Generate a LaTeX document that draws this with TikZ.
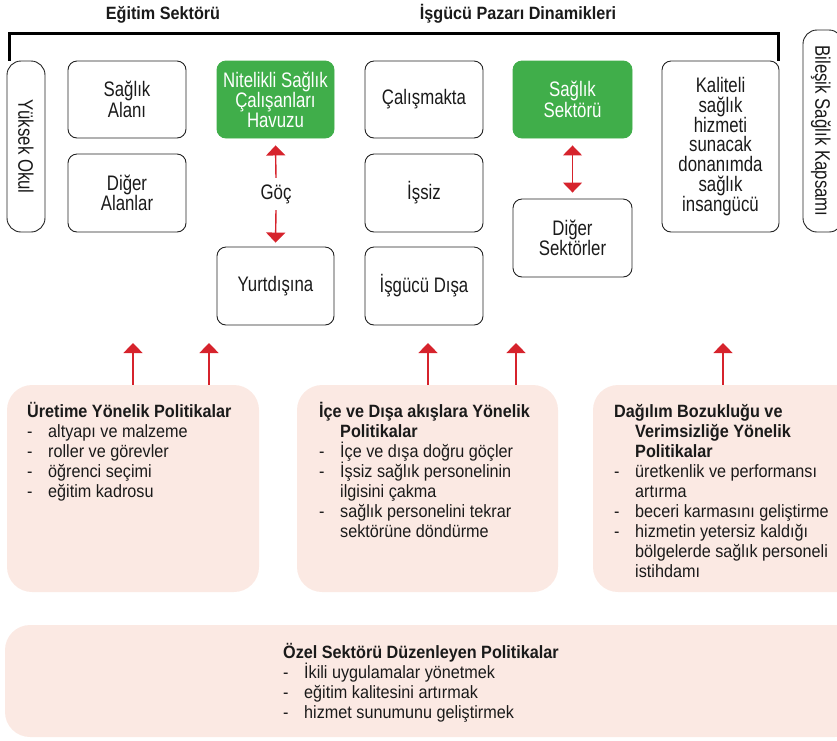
\documentclass[tikz,border=0pt]{standalone}
\usepackage{fontspec}
\setmainfont{Liberation Sans}[FakeStretch=0.91]
\newfontfamily\bigfont{Liberation Sans}[FakeStretch=0.8]
\usetikzlibrary{arrows.meta}
\definecolor{gfill}{HTML}{40AE4A}
\definecolor{rarrow}{HTML}{D6232C}
\definecolor{pfill}{HTML}{FBE9E3}
\definecolor{bord}{HTML}{222222}
\definecolor{txt}{HTML}{1A1A1A}
\newcommand\dsh{\makebox[21pt][l]{-}}
\newcommand\ind{\hspace*{21pt}}
\newcommand\topstrut{\rule{0pt}{16pt}}
\begin{document}
\begin{tikzpicture}[x=1pt,y=-1pt,
  box/.style={draw=bord, line width=0.9pt, rounded corners=9pt, align=center, inner sep=0pt, text=txt,
    font=\bigfont\fontsize{21}{19.5}\selectfont},
  gbox/.style={box, fill=gfill, draw=gfill, text=white},
  rtext/.style={rotate=-90, inner sep=0pt, text=txt, font=\bigfont\fontsize{21}{19.5}\selectfont},
  pol/.style={fill=pfill, draw=none, rounded corners=25pt, inner sep=0pt},
  ptext/.style={anchor=north west, align=left, inner sep=0pt, text=txt, font=\fontsize{17.8}{20}\selectfont},
  hdr/.style={font=\bfseries\fontsize{17.8}{20}\selectfont, anchor=base, inner sep=0pt, text=txt},
  arr/.style={color=rarrow, line width=1.4pt, -{Triangle[width=19pt,length=10pt]}},
  darr/.style={color=rarrow, line width=1.4pt, {Triangle[width=19pt,length=10pt]}-{Triangle[width=19pt,length=10pt]}},
  brk/.style={draw=black, line width=2.6pt}
]
\clip (0,0) rectangle (837,740);

% headers
\node[hdr] (h1) at (163,19) {Eğitim Sektörü};
\node[hdr] (h2) at (518,19) {İşgücü Pazarı Dinamikleri};

% top boxes
\node[box, minimum width=38, minimum height=171, rounded corners=14pt] (yo) at (26,146.5) {};
\node[rtext] (yot) at (yo.center) {Yüksek Okul};
\node[box, minimum width=118, minimum height=77] (sa) at (127,99.5) {Sağlık\\Alanı};
\node[box, minimum width=118, minimum height=78] (da) at (127,193) {Diğer\\Alanlar};
\node[gbox, minimum width=117, minimum height=77] (nit) at (275.5,99.5) {Nitelikli Sağlık\\Çalışanları\\Havuzu};
\node[inner sep=0pt, text height=14pt, text depth=4pt, text=txt, font=\bigfont\fontsize{21}{19.5}\selectfont] (goc) at (276,194) {Göç};
\node[box, minimum width=117, minimum height=78] (yd) at (275.5,286) {Yurtdışına};
\node[box, minimum width=118, minimum height=77] (cal) at (424,99.5) {Çalışmakta};
\node[box, minimum width=118, minimum height=78] (iss) at (424,193) {İşsiz};
\node[box, minimum width=118, minimum height=78] (igd) at (424,286) {İşgücü Dışa};
\node[gbox, minimum width=119, minimum height=77] (ss) at (572.5,99.5) {Sağlık\\Sektörü};
\node[box, minimum width=119, minimum height=78] (ds) at (572.5,238) {Diğer\\Sektörler};
\node[box, minimum width=117, minimum height=171, font=\bigfont\fontsize{21}{19.8}\selectfont] (kal) at (720.5,146.5) {Kaliteli\\sağlık\\hizmeti\\sunacak\\donanımda\\sağlık\\insangücü};
\node[box, minimum width=40, minimum height=202, rounded corners=14pt] (bsk) at (823,131) {};
\node[rtext] (bskt) at (821,131) {Bileşik Sağlık Kapsamı};

% bracket
\draw[brk] ([xshift=3pt]yo.north west) |- ([xshift=-1pt,yshift=27pt]kal.north east) -- ([xshift=-1pt]kal.north east);

% migration arrows
\draw[arr] ([yshift=7pt]goc.north) -- ([yshift=-7pt]nit.south);
\draw[arr] ([yshift=-7pt]goc.south) -- ([yshift=4pt]yd.north);
\draw[darr] ([yshift=-7pt]ss.south) -- ([yshift=6pt]ds.north);

% policy boxes
\node[pol, minimum width=252, minimum height=207] (p1) at (133,488.5) {};
\node[pol, minimum width=261, minimum height=207] (p2) at (427.5,488.5) {};
\node[pol, minimum width=270, minimum height=207] (p3) at (728,488.5) {};
\node[pol, minimum width=855, minimum height=112] (p4) at (432.5,681) {};

% policy arrows
\coordinate (t1) at (133,343);
\coordinate (t2) at (209,343);
\coordinate (t3) at (428,343);
\coordinate (t4) at (516,343);
\coordinate (t5) at (723,343);
\draw[arr] (p1.north -| t1) -- (t1);
\draw[arr] (p1.north -| t2) -- (t2);
\draw[arr] (p2.north -| t3) -- (t3);
\draw[arr] (p2.north -| t4) -- (t4);
\draw[arr] (p3.north -| t5) -- (t5);

% policy texts
\node[ptext] (p1t) at (27,401) {\topstrut\textbf{Üretime Yönelik Politikalar}\\
\dsh altyapı ve malzeme\\
\dsh roller ve görevler\\
\dsh öğrenci seçimi\\
\dsh eğitim kadrosu};
\node[ptext] (p2t) at (319,401) {\topstrut\textbf{İçe ve Dışa akışlara Yönelik}\\
\ind\textbf{Politikalar}\\
\dsh İçe ve dışa doğru göçler\\
\dsh İşsiz sağlık personelinin\\
\ind ilgisini çakma\\
\dsh sağlık personelini tekrar\\
\ind sektörüne döndürme};
\node[ptext] (p3t) at (614,401) {\topstrut\textbf{Dağılım Bozukluğu ve}\\
\ind\textbf{Verimsizliğe Yönelik}\\
\ind\textbf{Politikalar}\\
\dsh üretkenlik ve performansı\\
\ind artırma\\
\dsh beceri karmasını geliştirme\\
\dsh hizmetin yetersiz kaldığı\\
\ind bölgelerde sağlık personeli\\
\ind istihdamı};
\node[ptext] (p4t) at (283,642) {\topstrut\textbf{Özel Sektörü Düzenleyen Politikalar}\\
\dsh İkili uygulamalar yönetmek\\
\dsh eğitim kalitesini artırmak\\
\dsh hizmet sunumunu geliştirmek};
\end{tikzpicture}
\end{document}
